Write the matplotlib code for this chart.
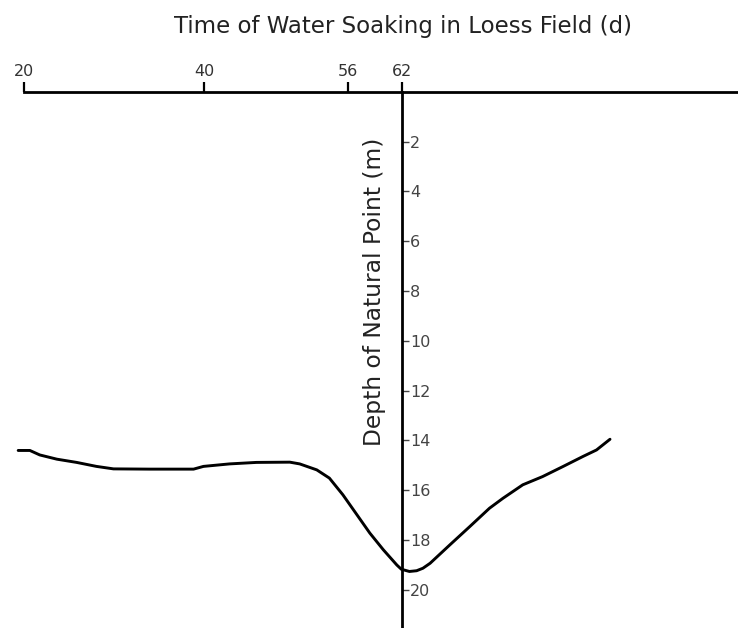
"""
Soaking-time vs. natural point depth, drawn with crossing axes
(time axis along the top, depth axis hanging from day 62).
"""

import matplotlib.pyplot as plt

plt.rcParams["font.family"] = ["DejaVu Sans"]

# values
days = [19.3, 20.6, 21.7, 23.6, 25.8, 28.0, 29.9, 33.9, 38.8, 39.9, 42.8,
        45.8, 49.5, 50.6, 52.5, 53.9, 55.4, 56.9, 58.4, 59.9, 61.4, 61.9,
        62.8, 63.6, 64.3, 65.1, 67.3, 69.5, 71.7, 73.2, 75.4, 77.6, 79.9,
        82.1, 83.6, 85.1]
depth = [14.40, 14.40, 14.58, 14.75, 14.88, 15.04, 15.14, 15.15, 15.15, 15.04,
         14.94, 14.88, 14.87, 14.94, 15.18, 15.51, 16.18, 16.95, 17.72, 18.39,
         19.00, 19.17, 19.26, 19.23, 19.13, 18.93, 18.19, 17.46, 16.72, 16.32,
         15.78, 15.45, 15.04, 14.64, 14.38, 13.95]

x_ticks = [20, 40, 56, 62]
y_ticks = [2, 4, 6, 8, 10, 12, 14, 16, 18, 20]
x_title = "Time of Water Soaking in Loess Field (d)"
y_title = "Depth of Natural Point (m)"

X_MIN, X_MAX = 17.28, 99.33
Y_TOP, Y_BOTTOM = -3.69, 21.53
CROSS_DAY = 62


def main():
    fig = plt.figure(figsize=(7.38, 6.28), dpi=100)
    ax = fig.add_axes([0, 0, 1, 1])
    ax.set_xlim(X_MIN, X_MAX)
    ax.set_ylim(Y_BOTTOM, Y_TOP)

    ax.plot(days, depth, color="black", linewidth=2.1,
            solid_capstyle="round", solid_joinstyle="round")

    # time axis along the top at depth 0
    ax.spines["top"].set_position(("data", 0))
    ax.spines["top"].set_bounds(20, X_MAX)
    ax.spines["top"].set_linewidth(2.0)
    ax.xaxis.set_ticks_position("top")
    ax.set_xticks(x_ticks)
    ax.tick_params(axis="x", direction="out", length=7, width=1.6,
                   pad=2.5, labelsize=11.5, labelcolor="#333333")

    # depth axis hanging down from day 62
    ax.spines["right"].set_position(("data", CROSS_DAY))
    ax.spines["right"].set_bounds(0, Y_BOTTOM)
    ax.spines["right"].set_linewidth(2.0)
    ax.yaxis.set_ticks_position("right")
    ax.set_yticks(y_ticks)
    ax.tick_params(axis="y", direction="out", length=5, width=1.0,
                   pad=0.5, labelsize=11.5, colors="#444444")

    ax.spines["left"].set_visible(False)
    ax.spines["bottom"].set_visible(False)

    fig.text(403 / 738, 1 - 27 / 628, x_title, ha="center", va="center",
             fontsize=16.5, color="#222222")
    fig.text(374 / 738, 1 - 292 / 628, y_title, ha="center", va="center",
             rotation=90, fontsize=16.8, color="#222222")

    fig.savefig("out.png", dpi=100)
    plt.close(fig)


if __name__ == "__main__":
    main()
